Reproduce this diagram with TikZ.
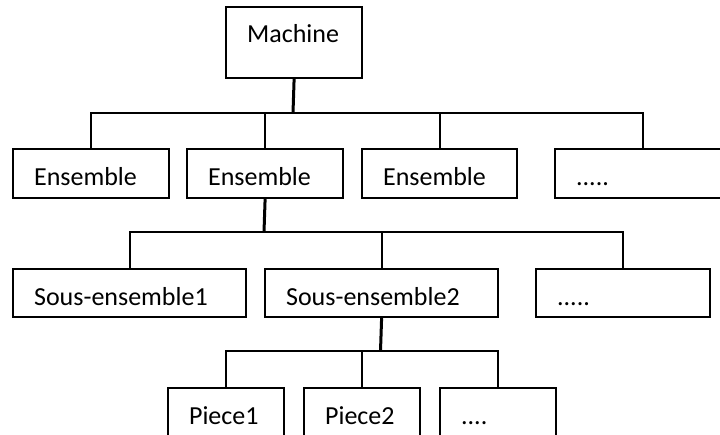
\documentclass[tikz,border=0pt]{standalone}
\usepackage{fontspec}
\setmainfont{Carlito}
\begin{document}
\begin{tikzpicture}[x=1pt, y=-1pt,
    boite/.style={rectangle, draw, line width=2.2pt, anchor=north west,
        inner xsep=21pt, inner ysep=0pt, align=left,
        text height=36pt, text depth=13pt,
        font=\fontsize{26}{31}\selectfont},
    racine/.style={boite, text height=35pt, text depth=36pt},
    branche/.style={line width=2pt},
    tronc/.style={line width=3pt}
]
    \clip (0,0) rectangle (720,434);
    \node[racine, text width=94pt] (m) at (225,6) {Machine};

    \node[boite, text width=114pt] (e1) at (12,148) {Ensemble};
    \node[boite, text width=114pt] (e2) at (186,148) {Ensemble};
    \node[boite, text width=113pt] (e3) at (361,148) {Ensemble};
    \node[boite, text width=134pt] (e4) at (554,148) {.....};

    \node[boite, text width=191pt, text depth=12pt] (s1) at (12,268) {Sous-ensemble1};
    \node[boite, text width=191pt, text depth=12pt] (s2) at (264,268) {Sous-ensemble2};
    \node[boite, text width=132pt, text depth=12pt] (s3) at (535,268) {.....};

    \node[boite, text width=74pt] (p1) at (167,387) {Piece1};
    \node[boite, text width=74pt] (p2) at (303,387) {Piece2};
    \node[boite, text width=74pt] (p3) at (439,387) {....};

    \coordinate (j1) at (293,113);
    \coordinate (j2) at (264,232);
    \coordinate (j3) at (380.5,351);

    \draw[tronc] (m.south) -- (j1);
    \foreach \n in {e1,e2,e3,e4}
        \draw[branche] (j1) -| (\n.north);
    \draw[tronc] (e2.south) -- (j2);
    \foreach \n in {s1,s2,s3}
        \draw[branche] (j2) -| (\n.north);
    \draw[tronc] (s2.south) -- (j3);
    \foreach \n in {p1,p2,p3}
        \draw[branche] (j3) -| (\n.north);
\end{tikzpicture}
\end{document}
